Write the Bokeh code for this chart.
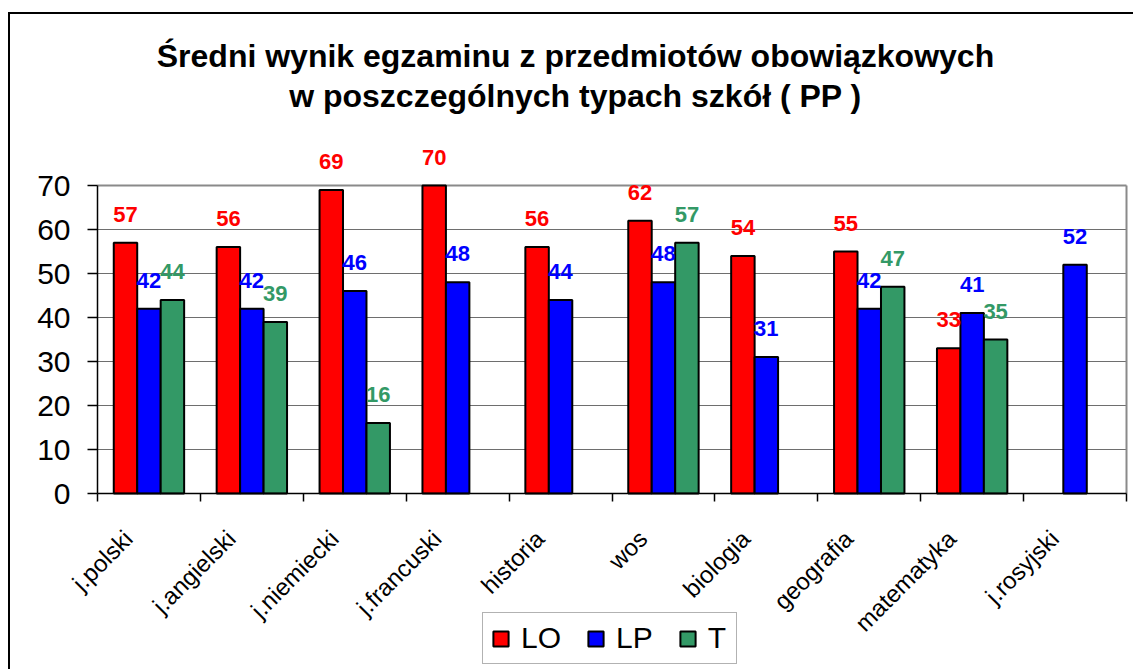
from bokeh.plotting import figure
from bokeh.models import (ColumnDataSource, LabelSet, Label, Legend, LegendItem,
                          FixedTicker, Range1d, LinearAxis)
from bokeh.core.properties import value
from bokeh.embed import file_html
from bokeh.resources import INLINE

categories = ["j.polski", "j.angielski", "j.niemiecki", "j.francuski", "historia",
              "wos", "biologia", "geografia", "matematyka", "j.rosyjski"]
series_names = ["LO", "LP", "T"]
LO = [57, 56, 69, 70, 56, 62, 54, 55, 33, None]
LP = [42, 42, 46, 48, 44, 48, 31, 42, 41, 52]
T = [44, 39, 16, None, None, 57, None, 47, 35, None]
y_ticks = [0, 10, 20, 30, 40, 50, 60, 70]
title_lines = ["Średni wynik egzaminu z przedmiotów obowiązkowych",
               "w poszczególnych typach szkół ( PP )"]

colors = ["#FF0000", "#0000FF", "#339966"]
series = [LO, LP, T]
bw = 0.228
offsets = [-bw, 0.0, bw]
FONT = "Liberation Sans"

# geometry (pixels inside canvas of 1125x657 placed at page (8,12))
W, H = 1125, 657
ORG_X, ORG_Y = 8, 12
FL, FR, FT, FB = 97, 1126, 185, 493   # page coords of data (0..10, 0..70)
ncat = len(categories)
ymax_v = y_ticks[-1]
px_x = (FR - FL) / ncat
px_y = (FB - FT) / ymax_v
x0 = (ORG_X - FL) / px_x
x1 = (ORG_X + W - FL) / px_x
y1 = (FB - ORG_Y) / px_y
y0 = (FB - (ORG_Y + H)) / px_y

p = figure(width=W, height=H, output_backend="svg", toolbar_location=None,
           x_range=Range1d(x0, x1), y_range=Range1d(y0, y1),
           x_axis_location=None, y_axis_location=None,
           min_border=0)
p.styles = {"margin-left": f"{ORG_X}px", "margin-top": f"{ORG_Y}px",
            "box-shadow": "inset 2px 2px 0 0 #000000"}
p.border_fill_color = None
p.background_fill_color = None
p.outline_line_color = None
p.xgrid.visible = False
p.ygrid.visible = False

# grid lines and plot-area border
inner = [t for t in y_ticks if 0 < t < ymax_v]
p.segment(x0=[0] * len(inner), x1=[ncat] * len(inner), y0=inner, y1=inner,
          line_color="#6e6e6e", line_width=1)
p.segment(x0=[0, ncat], x1=[ncat, ncat], y0=[ymax_v, 0], y1=[ymax_v, ymax_v],
          line_color="#8a8a8a", line_width=2)

renderers = []
for name, vals, col, off in zip(series_names, series, colors, offsets):
    xs = [i + 0.5 + off for i, v in enumerate(vals) if v is not None]
    ys = [v for v in vals if v is not None]
    src = ColumnDataSource(dict(x=xs, top=ys, lab=[str(v) for v in ys]))
    r = p.vbar(x="x", top="top", width=bw, bottom=0, source=src,
               fill_color=col, line_color="#000000", line_width=2)
    renderers.append(r)
    ls = LabelSet(x="x", y="top", text="lab", source=src, y_offset=21,
                  text_align="center", text_baseline="alphabetic",
                  text_color=col, text_font=value(FONT), text_font_size="22px",
                  text_font_style="bold")
    p.add_layout(ls)

# y axis
yax = LinearAxis(fixed_location=0, bounds=(0, ymax_v), ticker=FixedTicker(ticks=y_ticks))
yax.major_label_text_font = FONT
yax.major_label_text_font_size = "30px"
yax.major_label_text_color = "#000000"
yax.major_tick_out = 10
yax.major_tick_in = 0
yax.minor_tick_line_color = None
yax.axis_line_color = "#000000"
yax.axis_line_width = 1.5
yax.major_tick_line_width = 1.5
yax.major_label_standoff = 17
p.add_layout(yax, "left")

# x axis (labels anchored left of the category centre, as in the original)
label_pos = [i + 0.3 for i in range(ncat)]
xax = LinearAxis(fixed_location=0, bounds=(0, ncat),
                 ticker=FixedTicker(ticks=label_pos, minor_ticks=list(range(ncat + 1))))
xax.major_label_overrides = {c: n for c, n in zip(label_pos, categories)}
xax.major_tick_line_color = None
xax.major_tick_out = 0
xax.minor_tick_out = 8
xax.minor_tick_in = 0
xax.minor_tick_line_color = "#000000"
xax.minor_tick_line_width = 1.5
xax.axis_line_color = "#000000"
xax.axis_line_width = 1.5
xax.major_label_orientation = 0.785398
xax.major_label_text_font = FONT
xax.major_label_text_font_size = "24px"
xax.major_label_text_color = "#000000"
xax.major_label_standoff = 33
p.add_layout(xax, "below")

# title
for txt, off in zip(title_lines, [130, 90]):
    p.add_layout(Label(x=4.645, y=ymax_v, y_offset=off, text=txt,
                       text_align="center", text_baseline="alphabetic",
                       text_font=FONT, text_font_size="32px",
                       text_font_style="bold", text_color="#000000"))

legend = Legend(items=[LegendItem(label=n, renderers=[r]) for n, r in zip(series_names, renderers)],
                orientation="horizontal", location=(474, 5),
                glyph_width=19, glyph_height=19, label_standoff=11, spacing=25,
                padding=8, margin=0,
                label_text_font=FONT, label_text_font_size="30px",
                label_text_color="#000000",
                border_line_color="#666666", border_line_width=1.5,
                background_fill_color="#FFFFFF", background_fill_alpha=1.0)
p.add_layout(legend, "center")

open("out.html", "w").write(file_html(p, INLINE))
